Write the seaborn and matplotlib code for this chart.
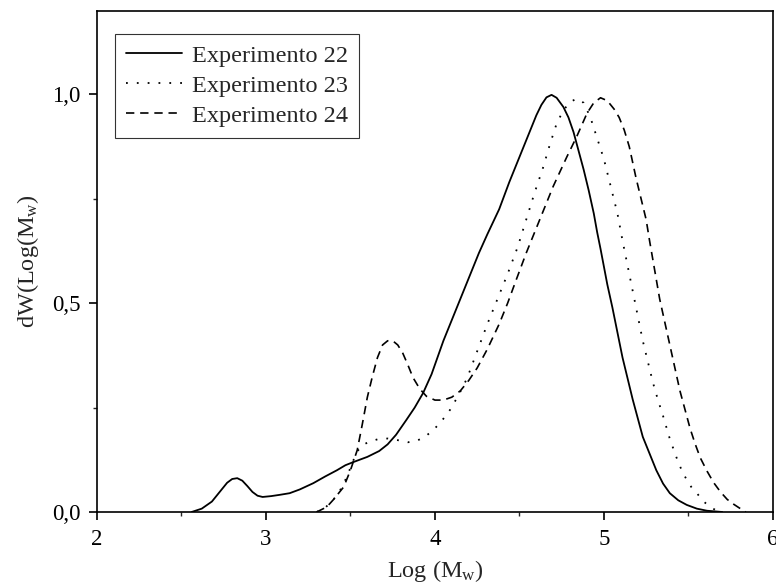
import numpy as np
import pandas as pd
import seaborn as sns
import matplotlib
matplotlib.use("Agg")
import matplotlib.pyplot as plt
from matplotlib.ticker import MultipleLocator, FuncFormatter

# Experimento 22 (solid)
x22 = [2.56, 2.62, 2.68, 2.73, 2.77, 2.80, 2.83, 2.86, 2.89, 2.92, 2.95, 2.98, 3.03, 3.08, 3.14,
       3.20, 3.28, 3.35, 3.42, 3.47, 3.52, 3.60, 3.67, 3.72, 3.77, 3.83, 3.88, 3.93, 3.98, 4.05,
       4.10, 4.15, 4.21, 4.26, 4.31, 4.38, 4.44, 4.50, 4.56, 4.60, 4.63, 4.66, 4.69, 4.72, 4.76,
       4.79, 4.82, 4.85, 4.88, 4.91, 4.94, 4.96, 4.98, 5.02, 5.05, 5.08, 5.11, 5.14, 5.17, 5.20,
       5.23, 5.27, 5.31, 5.35, 5.39, 5.44, 5.49, 5.55, 5.61, 5.70]
y22 = [0.0, 0.008, 0.025, 0.050, 0.070, 0.079, 0.081, 0.075, 0.062, 0.048, 0.039, 0.036, 0.038, 0.041, 0.045,
       0.054, 0.069, 0.085, 0.100, 0.112, 0.120, 0.132, 0.146, 0.162, 0.185, 0.220, 0.250, 0.285, 0.330, 0.410,
       0.460, 0.510, 0.570, 0.620, 0.665, 0.725, 0.790, 0.850, 0.910, 0.950, 0.975, 0.993, 0.999, 0.992, 0.970,
       0.945, 0.910, 0.865, 0.820, 0.770, 0.715, 0.670, 0.630, 0.545, 0.490, 0.430, 0.370, 0.320, 0.270, 0.225,
       0.180, 0.140, 0.100, 0.068, 0.045, 0.028, 0.017, 0.008, 0.003, 0.0]

# Experimento 23 (dotted)
x23 = [3.30, 3.35, 3.40, 3.44, 3.48, 3.51, 3.54, 3.57, 3.61, 3.66, 3.72, 3.78, 3.84, 3.89, 3.94,
       3.99, 4.04, 4.09, 4.14, 4.19, 4.25, 4.31, 4.37, 4.43, 4.49, 4.54, 4.59, 4.64, 4.68, 4.72,
       4.76, 4.80, 4.84, 4.88, 4.92, 4.96, 5.00, 5.04, 5.08, 5.11, 5.14, 5.17, 5.20, 5.23, 5.26,
       5.29, 5.32, 5.35, 5.39, 5.43, 5.46, 5.49, 5.52, 5.55, 5.59, 5.63, 5.68]
y23 = [0.0, 0.010, 0.030, 0.053, 0.085, 0.117, 0.145, 0.160, 0.168, 0.174, 0.176, 0.172, 0.167, 0.170, 0.180,
       0.196, 0.218, 0.245, 0.280, 0.320, 0.385, 0.450, 0.510, 0.570, 0.635, 0.700, 0.765, 0.825, 0.880, 0.930,
       0.962, 0.982, 0.990, 0.980, 0.945, 0.895, 0.845, 0.780, 0.715, 0.650, 0.590, 0.530, 0.470, 0.410, 0.360,
       0.310, 0.268, 0.230, 0.175, 0.130, 0.100, 0.077, 0.058, 0.045, 0.025, 0.012, 0.0]

# Experimento 24 (dashed)
x24 = [3.30, 3.36, 3.40, 3.46, 3.50, 3.54, 3.57, 3.60, 3.63, 3.66, 3.69, 3.72, 3.75, 3.78, 3.81,
       3.84, 3.87, 3.91, 3.95, 4.00, 4.05, 4.10, 4.15, 4.20, 4.25, 4.31, 4.38, 4.43, 4.48, 4.54,
       4.60, 4.65, 4.70, 4.74, 4.78, 4.84, 4.90, 4.94, 4.98, 5.02, 5.06, 5.09, 5.12, 5.15, 5.19,
       5.22, 5.25, 5.27, 5.30, 5.33, 5.36, 5.39, 5.42, 5.45, 5.48, 5.51, 5.54, 5.57, 5.61, 5.65,
       5.69, 5.73, 5.77, 5.80, 5.84]
y24 = [0.0, 0.012, 0.030, 0.060, 0.100, 0.148, 0.210, 0.275, 0.325, 0.370, 0.400, 0.410, 0.410, 0.400, 0.380,
       0.352, 0.322, 0.295, 0.277, 0.268, 0.268, 0.275, 0.290, 0.315, 0.345, 0.390, 0.450, 0.500, 0.555, 0.620,
       0.680, 0.730, 0.780, 0.815, 0.850, 0.900, 0.955, 0.980, 0.992, 0.985, 0.965, 0.945, 0.915, 0.875, 0.800,
       0.750, 0.700, 0.650, 0.580, 0.510, 0.455, 0.400, 0.345, 0.290, 0.245, 0.200, 0.163, 0.130, 0.098, 0.070,
       0.048, 0.030, 0.018, 0.010, 0.0]

labels = ["Experimento 22", "Experimento 23", "Experimento 24"]
x_ticks = [2, 3, 4, 5, 6]
y_ticks = [0.0, 0.5, 1.0]

sns.set_style("ticks")
plt.rcParams["font.family"] = ["Liberation Serif", "DejaVu Serif"]
plt.rcParams["mathtext.fontset"] = "custom"
plt.rcParams["mathtext.rm"] = "Liberation Serif"
plt.rcParams["mathtext.it"] = "Liberation Serif:italic"

fig = plt.figure(figsize=(7.76, 5.84), dpi=100)
ax = fig.add_axes([0.125, 0.1233, 0.871, 0.858])

styles = ["-", (0, (1, 5)), (0, (5, 3.5))]
lws = [1.3, 1.3, 1.2]
for xs, ys, lab, ls, lw in zip([x22, x23, x24], [y22, y23, y24], labels, styles, lws):
    sns.lineplot(x=xs, y=ys, ax=ax, color="black", linestyle=ls, linewidth=lw,
                 label=lab, sort=False, estimator=None)

ax.set_xlim(2, 6)
ax.set_ylim(0, 1.2)
ax.set_xticks(x_ticks)
ax.set_yticks(y_ticks)
ax.xaxis.set_minor_locator(MultipleLocator(0.5))
ax.yaxis.set_minor_locator(MultipleLocator(0.25))
ax.yaxis.set_major_formatter(FuncFormatter(lambda v, p: f"{v:.1f}".replace(".", ",")))
ax.tick_params(axis="both", which="major", direction="out", length=6, width=1.2,
               labelsize=16.5, colors="black")
ax.tick_params(axis="x", which="major", pad=6)
ax.tick_params(axis="y", which="major", pad=6)
ax.tick_params(axis="both", which="minor", direction="out", length=3, width=1.0)
for s in ax.spines.values():
    s.set_linewidth(1.2)
    s.set_color("black")
    s.set_visible(True)

ax.set_xlabel("Log (M$_\\mathrm{w}$)", fontsize=17.5, labelpad=6)
ax.set_ylabel("dW(Log(M$_\\mathrm{w}$)", fontsize=17.5, labelpad=8)

leg = ax.legend(loc="upper left", bbox_to_anchor=(0.027, 0.954), borderaxespad=0,
                fontsize=17.5, frameon=True, fancybox=False, handlelength=2.3,
                labelspacing=0.33, handletextpad=0.4, borderpad=0.45)
leg.get_frame().set_edgecolor("black")
leg.get_frame().set_linewidth(0.8)

fig.savefig("out.png", dpi=100)
